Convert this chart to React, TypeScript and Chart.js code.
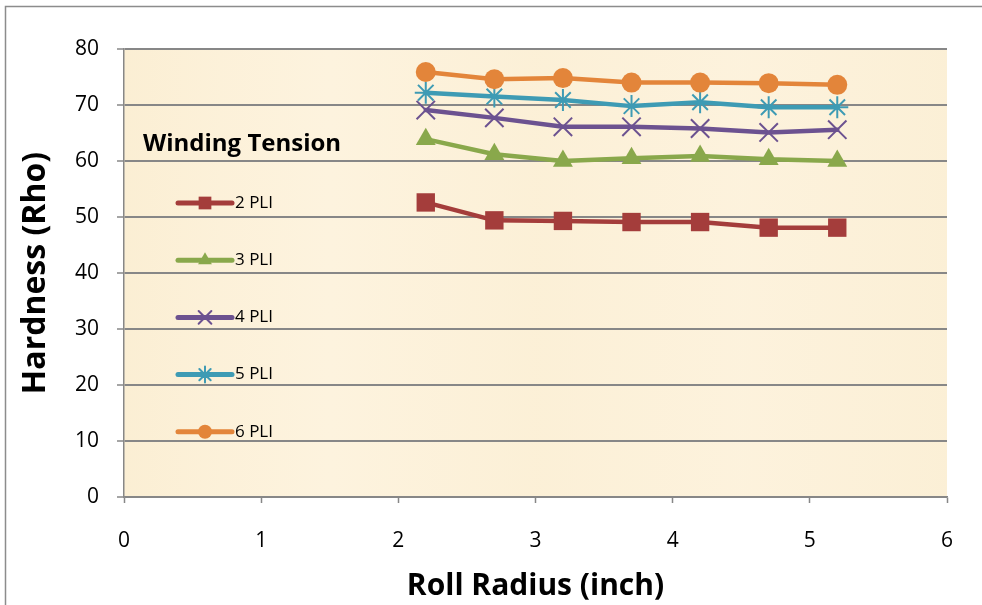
import React, { useEffect, useRef } from "react";
import { Chart, registerables } from "chart.js";
import { drawPoint } from "chart.js/helpers";

Chart.register(...registerables);

const radius = [2.2, 2.7, 3.2, 3.7, 4.2, 4.7, 5.2];
const pli2 = [52.6, 49.4, 49.3, 49.1, 49.1, 48.1, 48.1];
const pli3 = [63.9, 61.2, 60.0, 60.5, 60.9, 60.3, 60.0];
const pli4 = [69.1, 67.7, 66.1, 66.1, 65.8, 65.1, 65.6];
const pli5 = [72.2, 71.5, 70.9, 69.8, 70.5, 69.6, 69.6];
const pli6 = [75.9, 74.6, 74.8, 74.0, 74.0, 73.9, 73.6];
const seriesLabels = ["2 PLI", "3 PLI", "4 PLI", "5 PLI", "6 PLI"];
const legendTitle = "Winding Tension";
const xTitle = "Roll Radius (inch)";
const yTitle = "Hardness (Rho)";

const FONT = "'Open Sans', Lato, sans-serif";
const GRID = "#878787";

const styles = [
  { color: "#A43D3B", pointStyle: "rect", r: 13, lr: 9, bw: 0 },
  { color: "#89A84B", pointStyle: "triangle", r: 11.5, lr: 8, bw: 0 },
  { color: "#6C5290", pointStyle: "crossRot", r: 13, lr: 9, bw: 2 },
  { color: "#3E9BB4", pointStyle: "star", r: 11, lr: 8, bw: 2 },
  { color: "#E3853A", pointStyle: "circle", r: 10, lr: 7, bw: 0 },
];

const bgPlugin = {
  id: "parchment",
  beforeDraw(chart: any) {
    const { ctx, chartArea: a } = chart;
    ctx.save();
    ctx.fillStyle = "#FCF1DA";
    ctx.fillRect(a.left, a.top, a.right - a.left, a.bottom - a.top);
    const g = ctx.createLinearGradient(a.left, 0, a.right, 0);
    g.addColorStop(0, "rgba(250,236,205,0.5)");
    g.addColorStop(0.25, "rgba(255,246,228,0.4)");
    g.addColorStop(0.5, "rgba(251,238,210,0.4)");
    g.addColorStop(0.75, "rgba(254,244,224,0.4)");
    g.addColorStop(1, "rgba(250,237,208,0.4)");
    ctx.fillStyle = g;
    ctx.fillRect(a.left, a.top, a.right - a.left, a.bottom - a.top);
    ctx.restore();
  },
  afterDraw(chart: any) {
    const { ctx } = chart;
    ctx.save();
    ctx.strokeStyle = "#8c8c8c";
    ctx.lineWidth = 1.5;
    ctx.beginPath();
    ctx.moveTo(5.5, chart.height);
    ctx.lineTo(5.5, 6.5);
    ctx.lineTo(chart.width, 6.5);
    ctx.stroke();
    ctx.restore();
  },
};

const legendPlugin = {
  id: "insideLegend",
  afterDraw(chart: any) {
    const { ctx } = chart;
    ctx.save();
    ctx.fillStyle = "#000";
    ctx.font = `bold 24px ${FONT}`;
    ctx.textBaseline = "middle";
    ctx.textAlign = "left";
    ctx.fillText(legendTitle, 143, 144);
    chart.data.datasets.forEach((ds: any, i: number) => {
      const s = styles[i];
      const y = 203 + i * 57.2;
      ctx.strokeStyle = s.color;
      ctx.lineWidth = 5;
      ctx.lineCap = "round";
      ctx.beginPath();
      ctx.moveTo(178, y);
      ctx.lineTo(232, y);
      ctx.stroke();
      ctx.fillStyle = s.color;
      ctx.strokeStyle = s.color;
      ctx.lineWidth = s.bw;
      drawPoint(ctx, { pointStyle: s.pointStyle, radius: s.lr, rotation: 0, borderWidth: s.bw }, 205, y);
      ctx.fillStyle = "#000";
      ctx.font = `17px ${FONT}`;
      ctx.fillText(ds.label, 235, y);
    });
    ctx.restore();
  },
};

export default function App() {
  const ref = useRef<HTMLCanvasElement>(null);
  useEffect(() => {
    const series = [pli2, pli3, pli4, pli5, pli6];
    const chart = new Chart(ref.current!, {
      type: "line",
      data: {
        datasets: series.map((vals, i) => ({
          label: seriesLabels[i],
          data: vals.map((v, j) => ({ x: radius[j], y: v })),
          borderColor: styles[i].color,
          backgroundColor: styles[i].color,
          pointBorderColor: styles[i].color,
          pointBackgroundColor: styles[i].color,
          pointStyle: styles[i].pointStyle as any,
          pointRadius: styles[i].r,
          pointBorderWidth: styles[i].bw,
          borderWidth: 4.5,
          borderCapStyle: "round",
          borderJoinStyle: "round",
          fill: false,
          tension: 0,
          order: 5 - i,
        })),
      },
      options: {
        animation: false,
        responsive: false,
        events: [],
        layout: { padding: { top: 49, right: 35, left: 0, bottom: 0 } },
        plugins: { legend: { display: false }, tooltip: { enabled: false } },
        scales: {
          x: {
            type: "linear",
            min: 0,
            max: 6,
            afterFit: (s: any) => { s.height = 108; },
            ticks: { stepSize: 1, color: "#000", font: { family: FONT, size: 21 }, padding: 25 },
            grid: { drawOnChartArea: false, tickLength: 6, tickColor: GRID, tickWidth: 1.5, color: GRID },
            border: { color: GRID, width: 1.5 },
            title: { display: true, text: xTitle, color: "#000", font: { family: FONT, size: 30, weight: "bold" }, padding: { top: 0, bottom: 1 } },
          },
          y: {
            min: 0,
            max: 80,
            afterFit: (s: any) => { s.width = 124; },
            ticks: { stepSize: 10, color: "#000", font: { family: FONT, size: 21 }, padding: 18 },
            grid: { color: GRID, lineWidth: 2, tickLength: 7, tickColor: GRID, tickWidth: 1.5 },
            border: { color: GRID, width: 1.5 },
            title: { display: true, text: yTitle, color: "#000", font: { family: FONT, size: 32, weight: "bold" }, padding: { top: 17, bottom: 0 } },
          },
        },
      },
      plugins: [bgPlugin, legendPlugin],
    } as any);
    return () => chart.destroy();
  }, []);
  return (
    <div style={{ position: "absolute", left: 0, top: 0, width: 982, height: 605, overflow: "hidden", background: "#fff" }}>
      <canvas ref={ref} width={982} height={605} style={{ display: "block", width: 982, height: 605 }} />
    </div>
  );
}
